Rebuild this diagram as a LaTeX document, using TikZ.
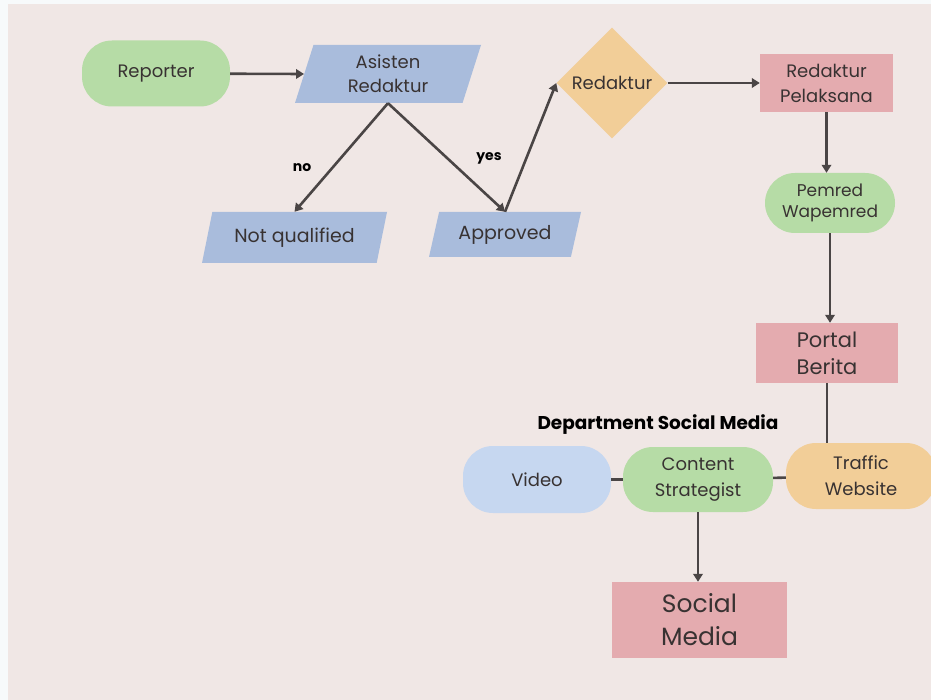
\documentclass[tikz,border=0pt]{standalone}
\usepackage{fontspec}
\setmainfont{Poppins}
\usetikzlibrary{shapes.geometric,arrows.meta}
\definecolor{paper}{HTML}{F0E7E5}
\definecolor{edgepaper}{HTML}{F7FAFB}
\definecolor{inkc}{HTML}{383232}
\definecolor{linec}{HTML}{4A4545}
\definecolor{termgreen}{HTML}{B6DCA6}
\definecolor{ioblue}{HTML}{A9BCDC}
\definecolor{lightblue}{HTML}{C6D7F0}
\definecolor{decorange}{HTML}{F2CE98}
\definecolor{procpink}{HTML}{E4ABAF}
\begin{document}
\begin{tikzpicture}[x=1pt,y=-1pt,
  every node/.style={text=inkc, align=center, inner sep=0pt},
  term/.style={rectangle, rounded corners=30pt, minimum width=148pt, minimum height=66pt, font=\fontsize{18}{26}\selectfont},
  iobox/.style={trapezium, trapezium left angle=62, trapezium right angle=118, trapezium stretches body, fill=ioblue, font=\fontsize{19}{24}\selectfont},
  procbox/.style={rectangle, fill=procpink},
  decision/.style={diamond, aspect=1, fill=decorange, minimum size=111pt, font=\fontsize{18}{24}\selectfont},
  lbl/.style={font=\bfseries\fontsize{14}{16}\selectfont, text=black},
  arr/.style={draw=linec, line width=2.6pt, -{Triangle[length=8pt,width=9.5pt]}},
  link/.style={draw=linec, line width=2.6pt}]
\useasboundingbox (0,0) rectangle (931,700);
\fill[edgepaper] (0,0) rectangle (931,700);
\fill[paper] (8,4) rectangle (931,700);

\node[term, fill=termgreen] (reporter) at (156,73.5){Reporter};
\node[iobox, minimum width=186pt, minimum height=58pt, trapezium left angle=64, trapezium right angle=116, font=\fontsize{18}{24}\selectfont] (asisten) at (388,74){Asisten\\Redaktur};
\node[decision] (redaktur) at (612,83){Redaktur};
\node[procbox, minimum width=133pt, minimum height=58pt, font=\fontsize{18}{25}\selectfont] (pelaksana) at (826.5,83){Redaktur\\Pelaksana};
\node[term, fill=termgreen, minimum width=130pt, minimum height=60pt, font=\fontsize{17}{21}\selectfont] (pemred) at (830,203){Pemred\\Wapemred};
\node[procbox, minimum width=142pt, minimum height=60pt, font=\fontsize{21}{27}\selectfont] (portal) at (827,353){Portal\\Berita};
\node[iobox, minimum width=185pt, minimum height=51pt] (notq) at (294.5,237.5){Not qualified};
\node[iobox, minimum width=152pt, minimum height=45pt] (approved) at (505,234.5){Approved};
\node[lbl] (no) at (302,168){no};
\node[lbl] (yes) at (489,158){yes};
\node[font=\bfseries\fontsize{18.5}{20}\selectfont, text=black] (dept) at (658,425){Department Social Media};
\node[term, fill=lightblue, minimum height=67pt] (video) at (537,479.5){Video};
\node[term, fill=termgreen, minimum width=150pt, minimum height=65pt] (content) at (698,479.5){Content\\Strategist};
\node[term, fill=decorange, minimum width=150pt] (traffic) at (861,476){Traffic\\Website};
\node[procbox, minimum width=175pt, minimum height=76pt, font=\fontsize{25}{33}\selectfont] (social) at (699.5,620){Social\\Media};

\draw[arr](reporter) -- (asisten.west);
\draw[arr](asisten.center |- asisten.south) -- (notq.center |- notq.north);
\draw[arr](asisten.center |- asisten.south) -- (approved.center |- approved.north);
\draw[arr](approved.center |- approved.north) -- (redaktur.west);
\draw[arr](redaktur) -- (pelaksana);
\draw[arr](pelaksana.south) -- (pelaksana.south |- pemred.north);
\draw[arr](pemred.south) -- (pemred.south |- portal.north);
\draw[link](portal.south) -- (portal.south |- traffic.north);
\draw[link](video) -- (content);
\draw[link](content) -- (traffic);
\draw[arr](content.south) -- (content.south |- social.north);
\end{tikzpicture}
\end{document}
